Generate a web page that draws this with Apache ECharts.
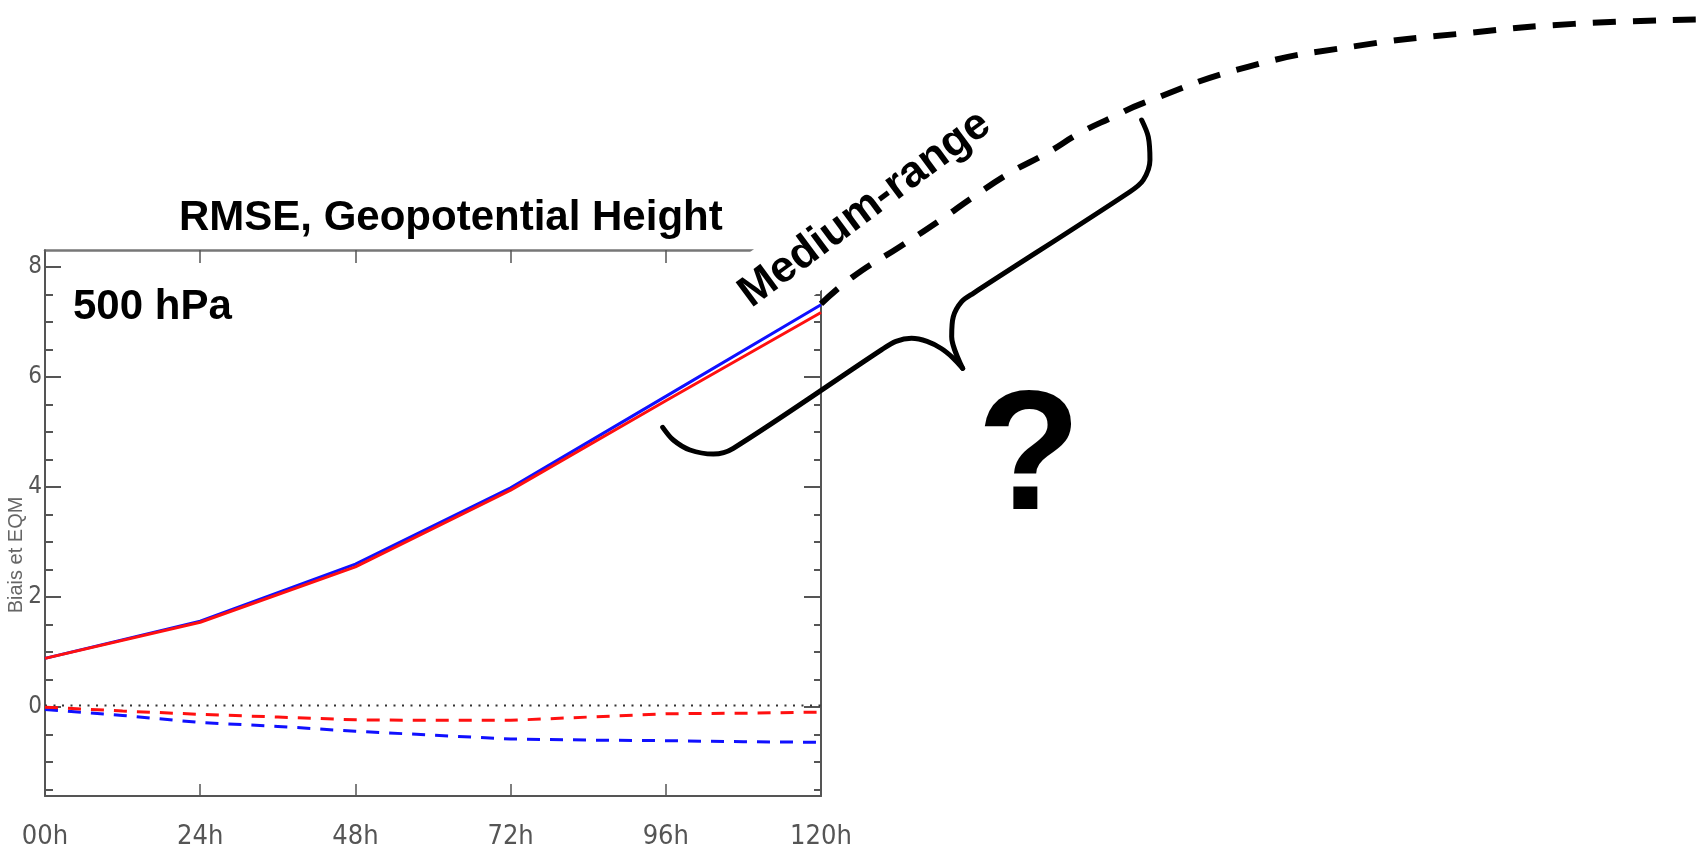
<!DOCTYPE html>
<html>
<head>
<meta charset="utf-8">
<title>RMSE, Geopotential Height</title>
<script src="https://cdn.jsdelivr.net/npm/echarts@6/dist/echarts.min.js"></script>
<style>
  html, body { margin: 0; padding: 0; background: #fff; }
  #chart { width: 1702px; height: 850px; }
</style>
</head>
<body>
<div id="chart"></div>
<script>
// RMSE (solid lines), every 24h
var hours = [0, 24, 48, 72, 96, 120];
var rmseBlue = [0.86, 1.54, 2.58, 3.97, 5.64, 7.31];
var rmseRed = [0.86, 1.52, 2.53, 3.93, 5.56, 7.17];

// bias (dashed lines), read every 12h
var biasHours = [0, 12, 24, 36, 48, 60, 72, 84, 96, 108, 120];
var biasBlue = [-0.07, -0.18, -0.31, -0.38, -0.47, -0.54, -0.61, -0.63, -0.64, -0.66, -0.67];
var biasRed = [-0.03, -0.10, -0.16, -0.21, -0.26, -0.27, -0.27, -0.21, -0.15, -0.14, -0.12];

// dotted zero line
var zeroHours = [0, 120];
var zeroValues = [0, 0];

var xTickLabels = ['00h', '24h', '48h', '72h', '96h', '120h'];
var yTickLabels = ['0', '2', '4', '6', '8'];

// error growth beyond 120h (black dashed curve)
var extraHours = [120, 124.9, 132.2, 138.4, 143.5, 149.2, 154.9, 160.1, 165.2, 169.8, 186.0, 202.9, 219.6, 236.4, 256.2];
var extraValues = [7.33, 7.82, 8.37, 8.85, 9.27, 9.71, 10.07, 10.44, 10.73, 10.98, 11.64, 12.02, 12.25, 12.42, 12.50];

// curly brace, in the same hours / value units
var braceLeftHours = [95.52, 97.16, 99.74, 103.35, 106.44, 129.4, 131.6, 134.0, 136.4, 138.6, 140.4, 141.91];
var braceLeftValues = [5.087, 4.856, 4.675, 4.602, 4.706, 6.500, 6.650, 6.705, 6.650, 6.520, 6.350, 6.160];
var braceRightHours = [141.91, 140.21, 140.46, 141.75, 143.55, 167.78, 169.84, 170.87, 170.61, 169.59];
var braceRightValues = [6.160, 6.734, 7.097, 7.370, 7.523, 9.369, 9.582, 9.946, 10.369, 10.673];

var sans = "'Liberation Sans', Arial, sans-serif";
var narrow = "'Liberation Sans Narrow', 'DejaVu Sans Condensed', 'Liberation Sans', sans-serif";
var axisGrey = '#555';

function pairs(xs, ys) {
  return xs.map(function (x, i) { return [x, ys[i]]; });
}

var chart = echarts.init(document.getElementById('chart'));

var hiddenX = function (grid, max) {
  return { type: 'value', gridIndex: grid, min: 0, max: max, show: false };
};

var option = {
  animation: false,
  backgroundColor: '#fff',
  title: [
    {
      text: 'RMSE, Geopotential Height', left: 179, top: 197, padding: 0,
      textStyle: { fontFamily: sans, fontSize: 42, fontWeight: 'bold', color: '#000' }
    },
    {
      text: '500 hPa', left: 73, top: 286, padding: 0,
      textStyle: { fontFamily: sans, fontSize: 42, fontWeight: 'bold', color: '#000' }
    },
    {
      text: '?', left: 977, top: 377, padding: 0,
      textStyle: { fontFamily: sans, fontSize: 170, fontWeight: 'bold', color: '#000' }
    }
  ],
  grid: [
    // plot box
    { left: 45, top: 250, width: 776, height: 548 },
    // minor y ticks (-1.5 .. 8)
    { left: 45, top: 267, width: 776, height: 522.7 },
    // major y ticks (0 .. 8)
    { left: 45, top: 267, width: 776, height: 440.2 },
    // overlay for the extrapolation and brace
    { left: 45, top: 0, width: 1657, height: 798 }
  ],
  xAxis: [
    {
      type: 'value', gridIndex: 0, position: 'bottom', min: 0, max: 120, interval: 24,
      axisLine: { onZero: false, lineStyle: { color: axisGrey, width: 2 } },
      axisTick: { inside: true, length: 12, lineStyle: { color: axisGrey, width: 1.5 } },
      axisLabel: {
        margin: 27, color: '#555', fontFamily: narrow, fontSize: 27,
        formatter: function (v) { return xTickLabels[Math.round(v / 24)]; }
      },
      splitLine: { show: false }
    },
    {
      type: 'value', gridIndex: 0, position: 'top', min: 0, max: 120, interval: 24,
      axisLine: { onZero: false, lineStyle: { color: '#777', width: 2.5 } },
      axisTick: { inside: true, length: 13, lineStyle: { color: axisGrey, width: 1.5 } },
      axisLabel: { show: false },
      splitLine: { show: false }
    },
    hiddenX(1, 120),
    hiddenX(2, 120),
    hiddenX(3, 256.24)
  ],
  yAxis: [
    {
      type: 'value', gridIndex: 0, position: 'left', min: -1.65, max: 8.31,
      axisLine: { show: true, onZero: false, lineStyle: { color: axisGrey, width: 2 } },
      axisTick: { show: false }, axisLabel: { show: false }, splitLine: { show: false },
      name: 'Biais et EQM', nameLocation: 'middle', nameGap: 19,
      nameTextStyle: { fontFamily: sans, fontSize: 20, color: '#666', padding: [0, 64, 0, 0] }
    },
    {
      type: 'value', gridIndex: 0, position: 'right', min: -1.65, max: 8.31,
      axisLine: { show: true, onZero: false, lineStyle: { color: axisGrey, width: 2 } },
      axisTick: { show: false }, axisLabel: { show: false }, splitLine: { show: false }
    },
    {
      type: 'value', gridIndex: 1, position: 'left', min: -1.5, max: 8, interval: 0.5,
      axisLine: { show: false, onZero: false },
      axisTick: { inside: true, length: 8, lineStyle: { color: axisGrey, width: 2 } },
      axisLabel: { show: false }, splitLine: { show: false }
    },
    {
      type: 'value', gridIndex: 1, position: 'right', min: -1.5, max: 8, interval: 0.5,
      axisLine: { show: false, onZero: false },
      axisTick: { inside: true, length: 7, lineStyle: { color: axisGrey, width: 2 } },
      axisLabel: { show: false }, splitLine: { show: false }
    },
    {
      type: 'value', gridIndex: 2, position: 'left', min: 0, max: 8, interval: 2,
      axisLine: { show: false, onZero: false },
      axisTick: { inside: true, length: 16, lineStyle: { color: axisGrey, width: 2 } },
      axisLabel: {
        margin: 3, color: '#555', fontFamily: narrow, fontSize: 24,
        formatter: function (v) { return yTickLabels[Math.round(v / 2)]; }
      },
      splitLine: { show: false }
    },
    {
      type: 'value', gridIndex: 2, position: 'right', min: 0, max: 8, interval: 2,
      axisLine: { show: false, onZero: false },
      axisTick: { inside: true, length: 17, lineStyle: { color: axisGrey, width: 2 } },
      axisLabel: { show: false }, splitLine: { show: false }
    },
    { type: 'value', gridIndex: 3, min: -1.65, max: 12.854, show: false }
  ],
  graphic: [
    {
      // label of the dashed curve; its white box hides the top-right corner of the plot
      type: 'text', x: 719, y: 275, rotation: 36.5 * Math.PI / 180, z: 5,
      style: {
        text: 'Medium-range', x: 0, y: 0, align: 'left', verticalAlign: 'top',
        fontFamily: sans, fontSize: 44, fontWeight: 'bold', fill: '#000',
        backgroundColor: '#fff', padding: [11.8, 6, 17.4, 6]
      }
    }
  ],
  series: [
    {
      type: 'line', xAxisIndex: 0, yAxisIndex: 0, data: pairs(zeroHours, zeroValues),
      showSymbol: false, lineStyle: { color: '#333', width: 2, type: [2, 6.5] }, z: 2
    },
    {
      type: 'line', xAxisIndex: 0, yAxisIndex: 0, data: pairs(biasHours, biasBlue),
      showSymbol: false, lineStyle: { color: '#1010ff', width: 3, type: [13, 10] }, z: 3
    },
    {
      type: 'line', xAxisIndex: 0, yAxisIndex: 0, data: pairs(biasHours, biasRed),
      showSymbol: false, lineStyle: { color: '#ff1010', width: 3, type: [13, 10] }, z: 3
    },
    {
      type: 'line', xAxisIndex: 0, yAxisIndex: 0, data: pairs(hours, rmseBlue),
      showSymbol: false, lineStyle: { color: '#1010ff', width: 3 }, z: 3
    },
    {
      type: 'line', xAxisIndex: 0, yAxisIndex: 0, data: pairs(hours, rmseRed),
      showSymbol: false, lineStyle: { color: '#ff1010', width: 3 }, z: 3
    },
    {
      type: 'line', xAxisIndex: 4, yAxisIndex: 6, data: pairs(extraHours, extraValues),
      showSymbol: false, smooth: true,
      lineStyle: { color: '#000', width: 6, type: [23, 17] }, z: 10
    },
    {
      type: 'line', xAxisIndex: 4, yAxisIndex: 6, data: pairs(braceLeftHours, braceLeftValues),
      showSymbol: false, smooth: 0.3,
      lineStyle: { color: '#000', width: 5, cap: 'round', join: 'round' }, z: 10
    },
    {
      type: 'line', xAxisIndex: 4, yAxisIndex: 6, data: pairs(braceRightHours, braceRightValues),
      showSymbol: false, smooth: 0.3,
      lineStyle: { color: '#000', width: 5, cap: 'round', join: 'round' }, z: 10
    }
  ]
};

chart.setOption(option);
</script>
</body>
</html>
